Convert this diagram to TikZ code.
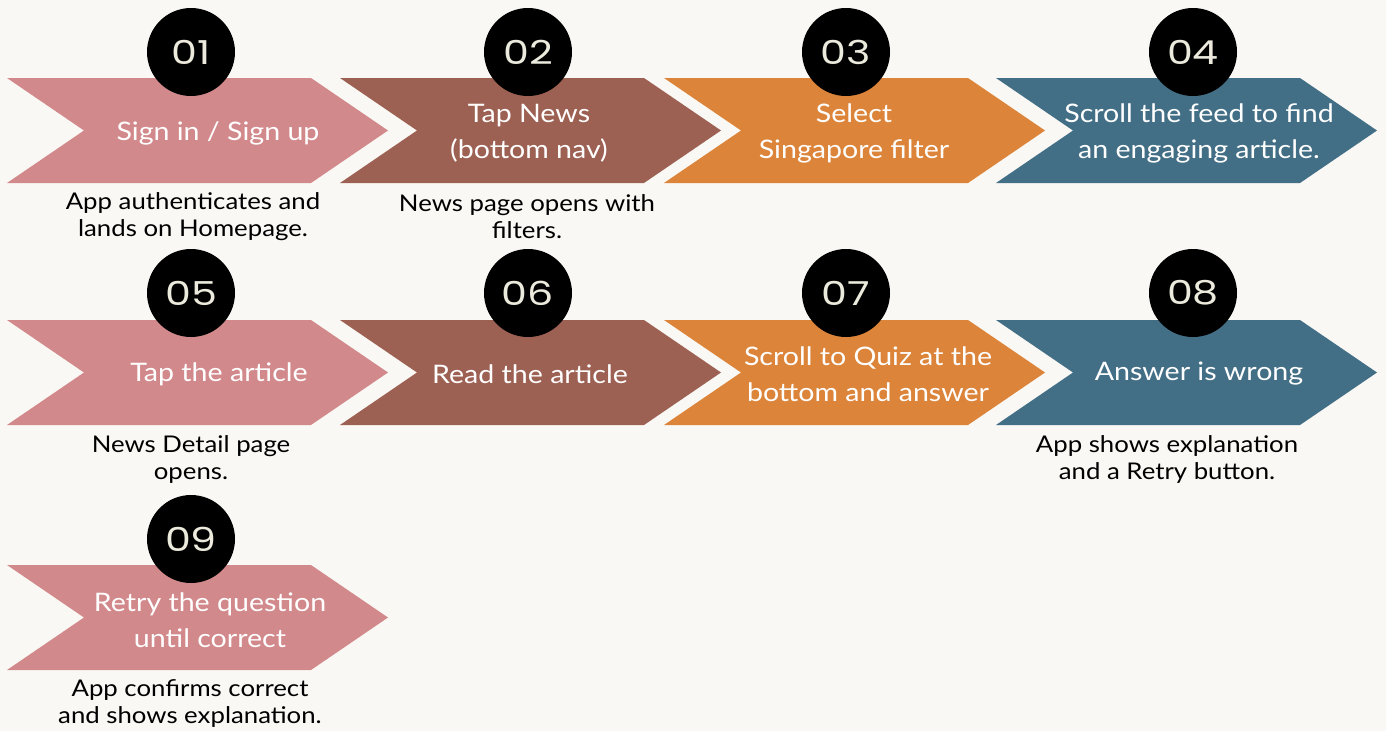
\documentclass[tikz,border=0pt]{standalone}
\usepackage{fontspec}
\setmainfont[FakeStretch=1.12]{Lato}
\newfontfamily\numfont[FakeStretch=1.25]{Poppins}
\definecolor{bg}{RGB}{250,248,244}
\definecolor{cpink}{RGB}{210,137,139}
\definecolor{cbrown}{RGB}{157,97,83}
\definecolor{corange}{RGB}{220,132,58}
\definecolor{cblue}{RGB}{67,111,134}
\definecolor{cream}{RGB}{236,234,220}
\tikzset{
  chevtext/.style={text=white, align=center, font=\fontsize{25.5}{36}\selectfont, inner sep=0pt},
  desctext/.style={text=black, align=center, font=\fontsize{23}{27}\selectfont, inner sep=0pt},
  numcircle/.style={circle, fill=black, minimum size=88pt, inner sep=0pt, text=cream, font=\numfont\fontsize{33}{33}\selectfont},
}
\newcommand{\chevshape}[3]{%
  \fill[#3] (#1,#2) -- ++(304,0) -- ++(77,52.5) -- ++(-77,52.5) -- ++(-304,0) -- ++(77,-52.5) -- cycle;}
\begin{document}
\begin{tikzpicture}[x=1pt,y=-1pt]
\fill[bg] (0,0) rectangle (1386,731);
\useasboundingbox (0,0) rectangle (1386,731);
% row 1
\chevshape{7}{78}{cpink}
\chevshape{340}{78}{cbrown}
\chevshape{664}{78}{corange}
\chevshape{996}{78}{cblue}
% row 2
\chevshape{7}{320}{cpink}
\chevshape{340}{320}{cbrown}
\chevshape{664}{320}{corange}
\chevshape{996}{320}{cblue}
% row 3
\chevshape{7}{565}{cpink}
% circles
\node[numcircle] (c1) at (191,52) {01};
\node[numcircle] (c2) at (528,52) {02};
\node[numcircle] (c3) at (846,52) {03};
\node[numcircle] (c4) at (1193,52) {04};
\node[numcircle] (c5) at (191,293) {05};
\node[numcircle] (c6) at (528,293) {06};
\node[numcircle] (c7) at (846,293) {07};
\node[numcircle] (c8) at (1193,293) {08};
\node[numcircle] (c9) at (191,539) {09};
% chevron texts
\node[chevtext] (t1) at (218,133) {Sign in / Sign up};
\node[chevtext] (t2) at (529,133) {Tap News\\(bottom nav)};
\node[chevtext] (t3) at (854,133) {Select\\Singapore filter};
\node[chevtext] (t4) at (1199,133) {Scroll the feed to find\\an engaging article.};
\node[chevtext] (t5) at (219,374) {Tap the article};
\node[chevtext] (t6) at (530,374) {Read the article};
\node[chevtext] (t7) at (868,374) {Scroll to Quiz at the\\bottom and answer};
\node[chevtext] (t8) at (1199,374) {Answer is wrong};
\node[chevtext] (t9) at (210,620) {Retry the question\\until correct};
% descriptions
\node[desctext] (d1) at (193,217) {App authenticates and\\lands on Homepage.};
\node[desctext] (d2) at (527,217) {News page opens with\\filters.};
\node[desctext] (d5) at (191,459) {News Detail page\\opens.};
\node[desctext] (d8) at (1167,459) {App shows explanation\\and a Retry button.};
\node[desctext] (d9) at (190,704) {App confirms correct\\and shows explanation.};
\end{tikzpicture}
\end{document}
